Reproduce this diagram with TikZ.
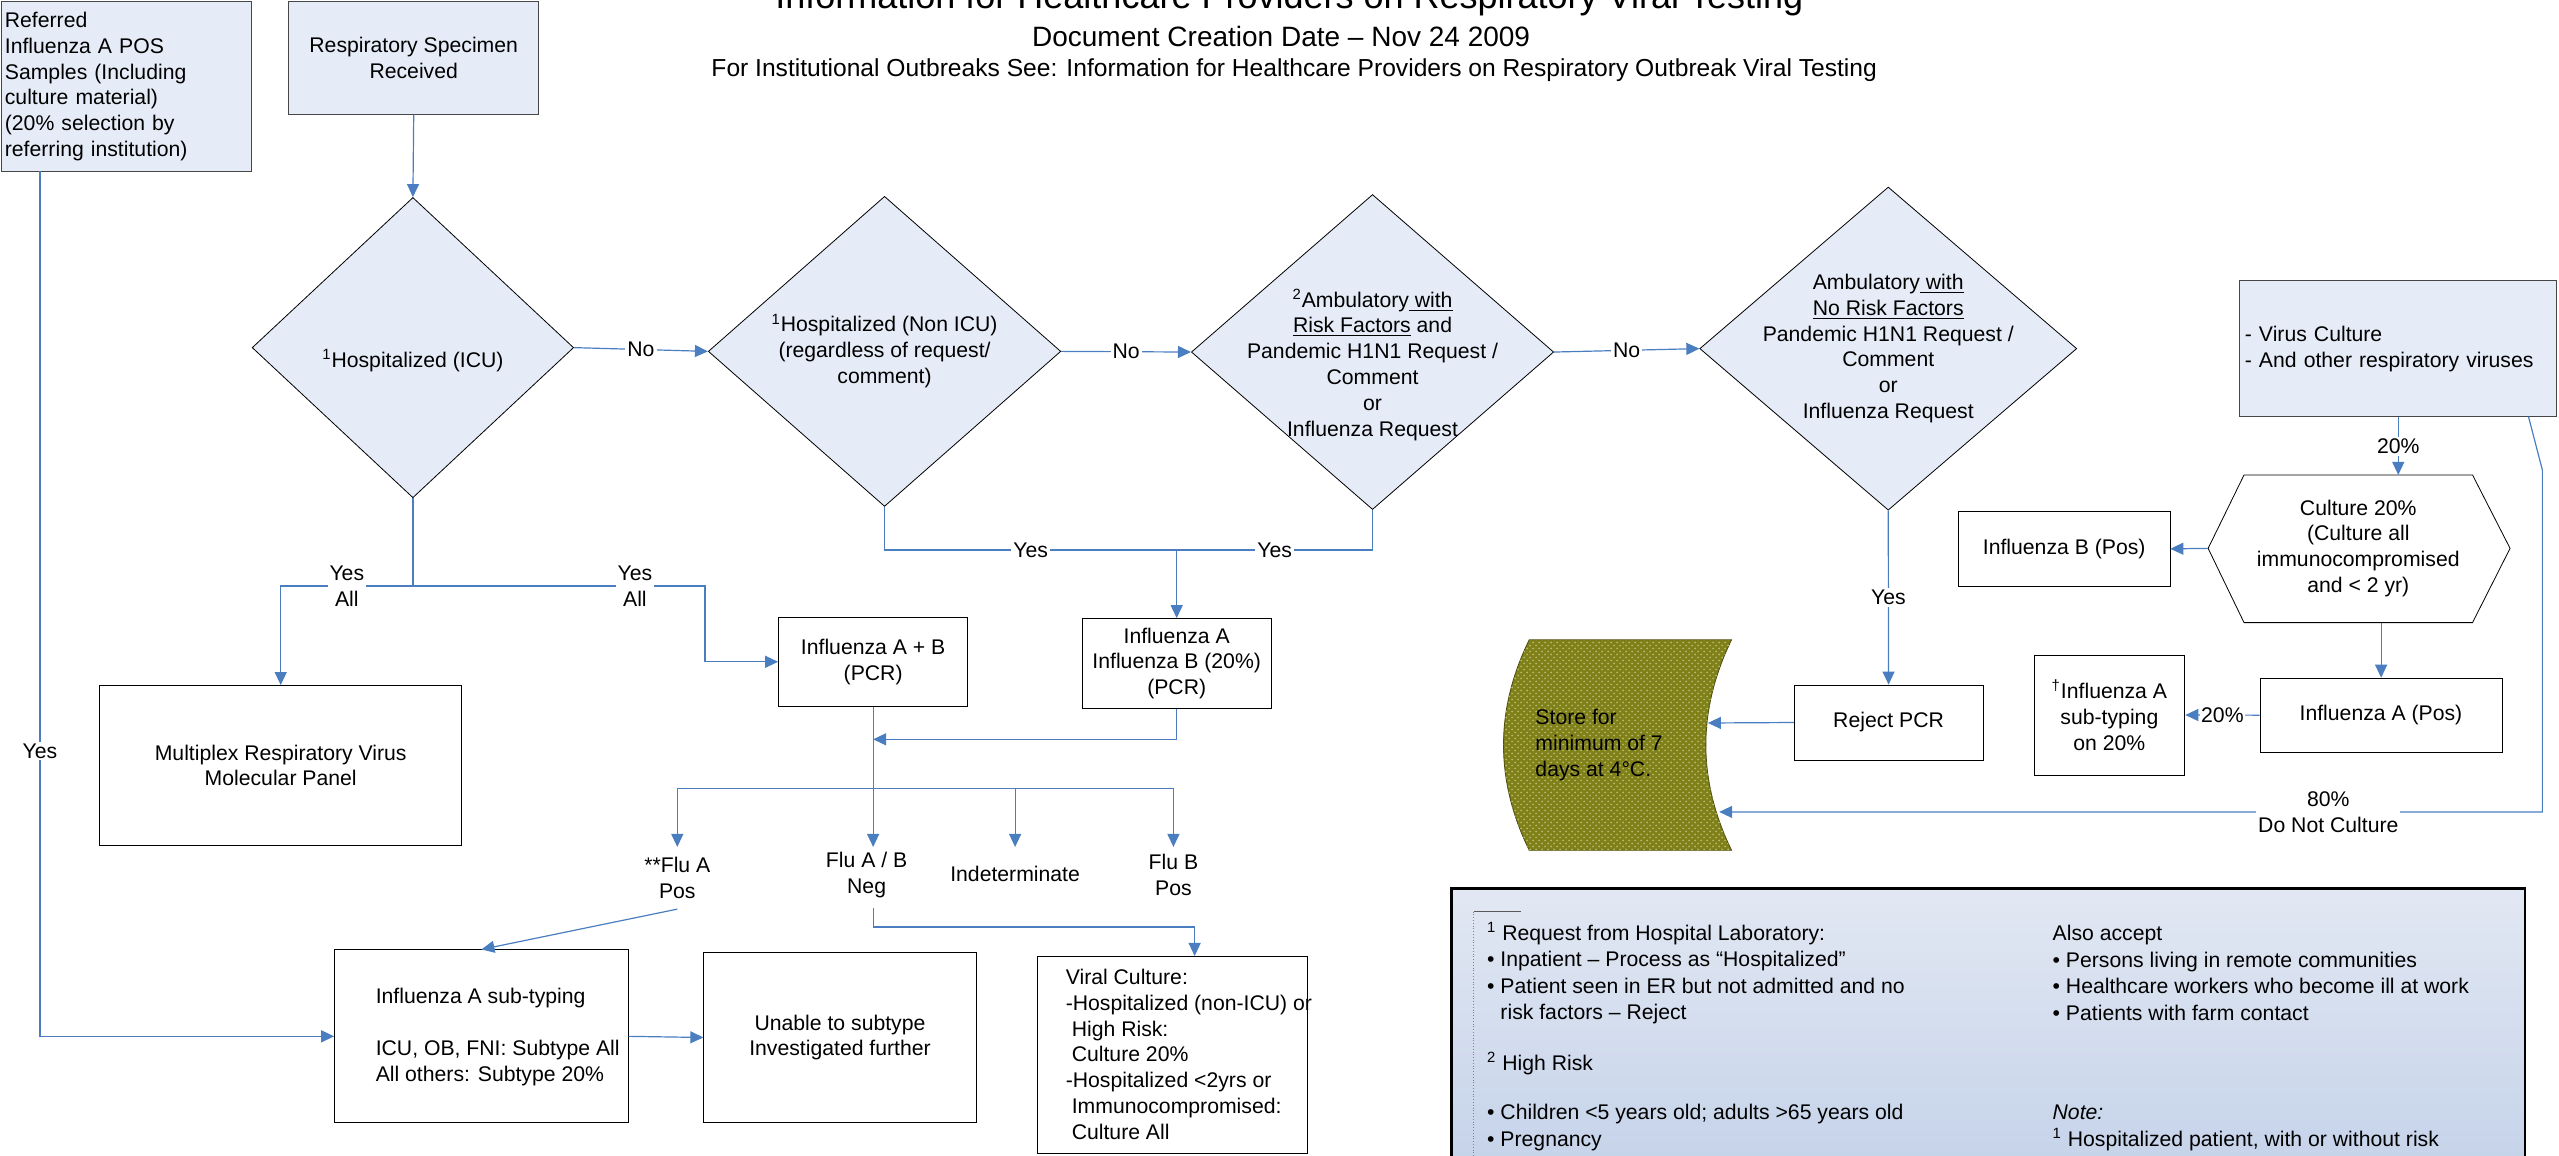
\documentclass[tikz,border=0pt]{standalone}
\usepackage{fontspec}
\setmainfont{Liberation Sans}
\usepackage{tikz}
\usetikzlibrary{arrows.meta,calc,shapes.geometric,patterns}
\definecolor{boxblue}{RGB}{230,236,247}
\definecolor{boxedge}{RGB}{70,70,70}
\definecolor{lineblue}{RGB}{74,126,193}
\definecolor{storeolive}{RGB}{128,128,24}
\definecolor{storedot}{RGB}{180,184,112}
\definecolor{notetop}{RGB}{226,232,243}
\definecolor{notebot}{RGB}{196,210,233}
\tikzset{>={Triangle[length=6.5pt,width=6pt]}}
\tikzset{sz/.style 2 args={minimum width=#1*0.816pt, minimum height=#2*0.816pt}}
\tikzstyle{box}=[rectangle, draw=boxedge, fill=boxblue, inner sep=0pt, align=center]
\tikzstyle{wbox}=[rectangle, draw=black, fill=white, inner sep=0pt, align=center]
\tikzstyle{dia}=[diamond, draw=black, fill=boxblue, inner sep=0pt]
\tikzstyle{txt}=[inner sep=0pt, align=center]
\tikzstyle{flu}=[inner sep=5pt, align=center]
\tikzstyle{lbl}=[fill=white, inner sep=1pt, align=center]
\tikzstyle{conn}=[draw=lineblue, line width=0.6pt]
\tikzstyle{notebox}=[rectangle, draw=black, line width=1.2pt, top color=notetop, bottom color=notebot]
\tikzstyle{note}=[inner sep=0pt, anchor=west, align=left, font=\fontsize{10.6}{13.3}\selectfont]
\newcommand{\pArr}[2]{\draw[conn,->] (#1) -- (#2)}
\newcommand{\pVH}[2]{\draw[conn,->] (#1) |- (#2)}

\begin{document}
\begin{tikzpicture}[x=0.816pt, y=-0.816pt, every node/.style={font=\fontsize{10.6}{12.9}\selectfont}]
\useasboundingbox (0,0) rectangle (1568,708);

\node[anchor=base, inner sep=0pt, font=\fontsize{18}{21}\selectfont] (TI1) at (790,5) {Information for Healthcare Providers on Respiratory Viral Testing};
\node[anchor=base, inner sep=0pt, font=\fontsize{14}{17}\selectfont] (TI2) at (785,28.6) {Document Creation Date – Nov 24 2009};
\node[anchor=base, inner sep=0pt, font=\fontsize{12.3}{15}\selectfont] (TI3) at (793,47) {For Institutional Outbreaks See: Information for Healthcare Providers on Respiratory Outbreak Viral Testing};

\node[box, sz={153}{104}, text width=149*0.816pt, align=left] (R) at (77.5,53) {Referred\\Influenza A POS\\Samples (Including\\culture material)\\(20\% selection by\\referring institution)};
\node[box, sz={153}{69}] (S) at (253.5,35.5) {Respiratory Specimen\\Received};

\node[dia, sz={197}{184}] (D1) at (253,213) {};
\node[txt] (Q1) at (253,221) {\textsuperscript{1}Hospitalized (ICU)};
\node[dia, sz={216}{190}] (D2) at (542,215.3) {};
\node[txt] (Q2) at (542,215) {\textsuperscript{1}Hospitalized (Non ICU)\\(regardless of request/\\comment)};
\node[dia, sz={222}{193}] (D3) at (841,215.7) {};
\node[txt] (Q3) at (841,223.4) {\textsuperscript{2}Ambulatory\underline{ with}\\\underline{Risk Factors} and\\Pandemic H1N1 Request /\\Comment\\or\\Influenza Request};
\node[dia, sz={231}{198}] (D4) at (1157,213.6) {};
\node[txt] (Q4) at (1157,213.5) {Ambulatory\underline{ with}\\\underline{No Risk Factors}\\Pandemic H1N1 Request /\\Comment\\or\\Influenza Request};

\node[wbox, sz={222}{98}] (M) at (172,469) {Multiplex Respiratory Virus\\Molecular Panel};
\node[wbox, sz={116}{55}] (P1) at (535,405.5) {Influenza A + B\\(PCR)};
\node[wbox, sz={116}{55}] (P2) at (721,406.5) {Influenza A\\Influenza B (20\%)\\(PCR)};

\node[flu] (F1) at (415,538) {**Flu A\\Pos};
\node[flu] (F2) at (531,536) {Flu A / B\\Neg};
\node[flu] (F3) at (622,535.6) {Indeterminate};
\node[flu] (F4) at (719,536) {Flu B\\Pos};

\node[wbox, sz={180}{106}] (SUB) at (295,635) {};
\node[txt, anchor=west, align=left] (SUBt) at (230,635.3) {Influenza A sub-typing\\[12.9pt]ICU, OB, FNI: Subtype All\\All others: Subtype 20\%};
\node[wbox, sz={167}{104.5}] (U) at (514.7,635.7) {Unable to subtype\\Investigated further};
\node[wbox, sz={165.4}{120.6}] (V) at (718.3,646.3) {};
\node[txt, anchor=west, align=left] (Vt) at (652.8,646) {Viral Culture:\\-Hospitalized (non-ICU) or\\\hspace*{3pt}High Risk:\\\hspace*{3pt}Culture 20\%\\-Hospitalized <2yrs or\\\hspace*{3pt}Immunocompromised:\\\hspace*{3pt}Culture All};

\node[box, sz={194.3}{83.3}, text width=188*0.816pt, align=left] (VC) at (1469.5,213.7) {- Virus Culture\\- And other respiratory viruses};
\draw[draw=black, fill=white] (1353,336) -- (1375,291) -- (1515,291) -- (1538,336) -- (1515,381.5) -- (1375,381.5) -- cycle;
\node[txt] (H) at (1445,336) {Culture 20\%\\(Culture all\\immunocompromised\\and < 2 yr)};
\coordinate (Ht) at (1470,291);
\coordinate (Hl) at (1353,336);
\coordinate (Hb) at (1459,381.5);
\node[wbox, sz={129.6}{45.5}] (IB) at (1264.8,336.3) {Influenza B (Pos)};
\node[wbox, sz={148.3}{45.4}] (IA) at (1458.9,438.2) {Influenza A (Pos)};
\node[wbox, sz={92.5}{73.6}] (ST) at (1292.5,438.1) {\textsuperscript{†}Influenza A\\sub-typing\\on 20\%};
\node[wbox, sz={115.7}{46}] (RJ) at (1157.2,442.7) {Reject PCR};

\draw[draw=storeolive!60!black, fill=storeolive, postaction={pattern=crosshatch dots, pattern color=storedot}] (937,392) -- (1061,392) .. controls (1040,435) and (1040,478) .. (1061,521) -- (937,521) .. controls (916,478) and (916,435) .. (937,392) -- cycle;
\node[txt, anchor=west, align=left] (SF) at (940.6,456.5) {Store for\\minimum of 7\\days at 4°C.};
\coordinate (Sa) at (1046.5,443);
\coordinate (Sb) at (1053.4,497.5);

\node[notebox, sz={657.5}{175.7}] (N) at (1218.25,632.15) {};
\draw[gray!70!black] (903,558.6) -- (931.7,558.6);
\draw[gray, densely dotted] (903,558.6) -- (903,720);
\node[note] (L1) at (911,596.2) {\textsuperscript{1} Request from Hospital Laboratory:\\• Inpatient – Process as “Hospitalized”\\• Patient seen in ER but not admitted and no\\\hphantom{• }risk factors – Reject};
\node[note] (L2) at (911,651.5) {\textsuperscript{2} High Risk};
\node[note] (L3) at (911,691) {• Children <5 years old; adults >65 years old\\• Pregnancy};
\node[note] (L4) at (1257.5,596.2) {Also accept\\• Persons living in remote communities\\• Healthcare workers who become ill at work\\• Patients with farm contact};
\node[note] (L5) at (1257.5,691) {\textit{Note:}\\\textsuperscript{1} Hospitalized patient, with or without risk};

\pArr{S.south}{D1.north};
\draw[conn,->] (D1.east) -- node[lbl]{No} (D2.west);
\draw[conn,->] (D2.east) -- node[lbl]{No} (D3.west);
\draw[conn,->] (D3.east) -- node[lbl]{No} (D4.west);

\coordinate (J1) at (253,359);
\coordinate (J2) at (721,337);
\coordinate (J3) at (432,359);
\draw[conn] (D2.south) |- node[lbl,pos=.75]{Yes} (J2);
\draw[conn] (D3.south) |- node[lbl,pos=.75]{Yes} (J2);
\pArr{J2}{P2.north};
\draw[conn] (D1.south) -- (J1);
\draw[conn,->] (J1) -| node[lbl,pos=.25]{Yes\\All} (M.north);
\draw[conn,->] (J1) -- node[lbl,pos=.76]{Yes\\All} (J3) |- (P1.west);

\coordinate (K) at (535,453);
\coordinate (J) at (535,483);
\draw[conn,->] (P1.south) -- (P1.south |- F1.north);
\pVH{P2.south}{K};
\draw[conn] (F1.north |- J) -- (F4.north |- J);
\foreach \f in {F1,F3,F4}
  \draw[conn,->] (\f.north |- J) -- (\f.north |- F1.north);
\pArr{F1.south}{SUB.north};
\coordinate (J4) at (535,568);
\coordinate (J5) at (732,568);
\draw[conn,->] (J4 |- F2.south) -- (J4) -- (J5) -- (J5 |- V.north);
\coordinate (Y0) at (24.5,105);
\draw[conn,->] (Y0) |- node[lbl,pos=.335]{Yes} (SUB.west);
\pArr{SUB.east}{U.west};

\draw[conn,->] (VC.south) -- node[lbl]{20\%} (VC.south |- Ht);
\pArr{Hl}{IB.east};
\pArr{Hb}{Hb |- IA.north};
\draw[conn,->] (IA.west) -- node[lbl, inner sep=0.5pt]{20\%} (ST.east);
\draw[conn,->] (D4.south) -- node[lbl]{Yes} (RJ.north);
\pArr{RJ.west}{Sa};
\coordinate (C0) at (1549.3,255.3);
\coordinate (C1) at (1557.8,288);
\coordinate (C2) at (1557.8,497.5);
\draw[conn,->] (C0) -- (C1) -- (C2) -- node[lbl,pos=.26]{80\%\\Do Not Culture} (Sb);

\end{tikzpicture}
\end{document}
